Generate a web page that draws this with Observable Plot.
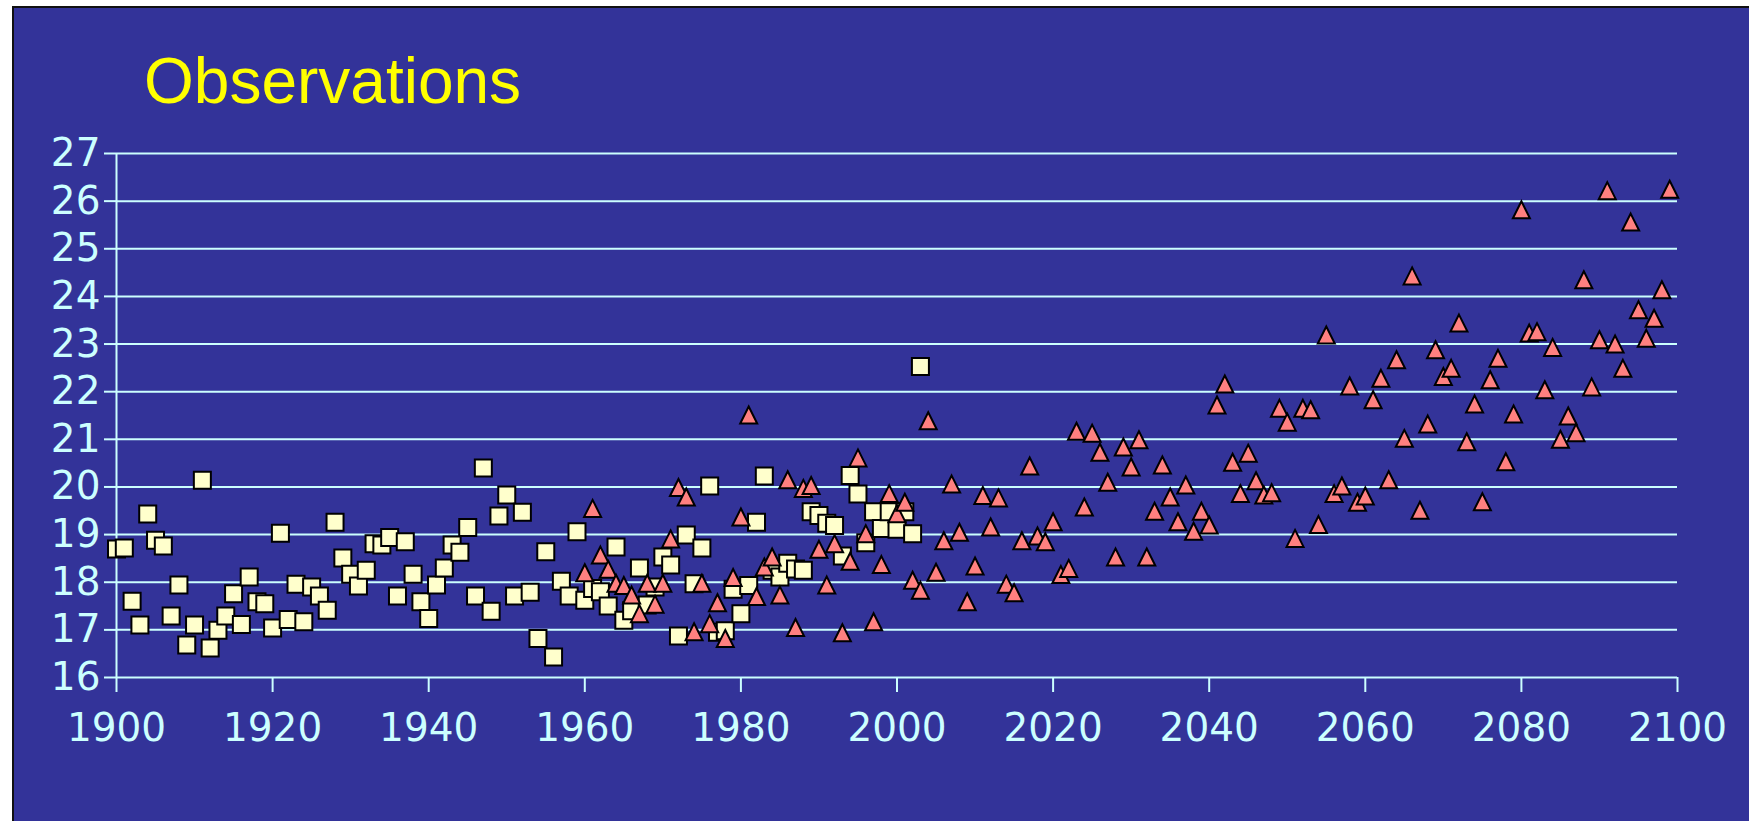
<!DOCTYPE html>
<html>
<head>
<meta charset="utf-8">
<script src="https://cdn.jsdelivr.net/npm/d3@7"></script>
<script src="https://cdn.jsdelivr.net/npm/@observablehq/plot@0.6"></script>
<style>
  html, body { margin: 0; padding: 0; background: #ffffff; overflow: hidden; }
  #page { position: relative; width: 1749px; height: 821px; }
  #panel { position: absolute; left: 12px; top: 6px; right: 0; bottom: 0; background: #333399;
           border-left: 2px solid #111; border-top: 2px solid #111; }
  #chart { position: absolute; left: 0; top: 0; }
  #title { position: absolute; left: 144px; top: 49px; font-family: "Liberation Sans", Arial, sans-serif;
           font-size: 64px; line-height: 64px; color: #ffff00; white-space: nowrap; }
</style>
</head>
<body>
<div id="page">
  <div id="panel"></div>
  <div id="chart"></div>
  <div id="title">Observations</div>
</div>
<script>
// ---- Data ----
const xTicks = [1900, 1920, 1940, 1960, 1980, 2000, 2020, 2040, 2060, 2080, 2100];
const yTicks = [16, 17, 18, 19, 20, 21, 22, 23, 24, 25, 26, 27];

// Observations (squares)
const obsYears = [
  1900,1901,1902,1903,1904,1905,1906,1907,1908,1909,
  1910,1911,1912,1913,1914,1915,1916,1917,1918,1919,
  1920,1921,1922,1923,1924,1925,1926,1927,1928,1929,
  1930,1931,1932,1933,1934,1935,1936,1937,1938,1939,
  1940,1941,1942,1943,1944,1945,1946,1947,1948,1949,
  1950,1951,1952,1953,1954,1955,1956,1957,1958,1959,
  1960,1961,1962,1963,1964,1965,1966,1967,1968,1969,
  1970,1971,1972,1973,1974,1975,1976,1977,1978,1979,
  1980,1981,1982,1983,1984,1985,1986,1987,1988,1989,
  1990,1991,1992,1993,1994,1995,1996,1997,1998,1999,
  2000,2001,2002,2003
];
const obsValues = [
  18.70,18.72,17.60,17.10,19.43,18.88,18.76,17.29,17.94,16.68,
  17.10,20.14,16.62,16.99,17.29,17.76,17.11,18.11,17.59,17.55,
  17.04,19.03,17.22,17.96,17.17,17.90,17.71,17.41,19.26,18.51,
  18.17,17.92,18.25,18.81,18.78,18.94,17.71,18.85,18.17,17.59,
  17.24,17.94,18.30,18.78,18.63,19.15,17.71,20.40,17.39,19.39,
  19.83,17.71,19.47,17.79,16.82,18.64,16.43,18.02,17.71,19.06,
  17.62,17.87,17.80,17.50,18.74,17.20,17.40,18.30,17.52,17.90,
  18.53,18.36,16.87,18.99,17.97,18.72,20.02,16.95,16.98,17.85,
  17.34,17.93,19.26,20.23,18.25,18.11,18.40,18.28,18.25,19.48,
  19.40,19.24,19.19,18.55,20.24,19.85,18.83,19.48,19.13,19.48,
  19.11,19.48,19.02,22.53
];

// Simulation (triangles)
const simYears = [
  1960,1961,1962,1963,1964,1965,1966,1967,1968,1969,
  1970,1971,1972,1973,1974,1975,1976,1977,1978,1979,
  1980,1981,1982,1983,1984,1985,1986,1987,1988,1989,
  1990,1991,1992,1993,1994,1995,1996,1997,1998,1999,
  2000,2001,2002,2003,2004,2005,2006,2007,2008,2009,
  2010,2011,2012,2013,2014,2015,2016,2017,2018,2019,
  2020,2021,2022,2023,2024,2025,2026,2027,2028,2029,
  2030,2031,2032,2033,2034,2035,2036,2037,2038,2039,
  2040,2041,2042,2043,2044,2045,2046,2047,2048,2049,
  2050,2051,2052,2053,2054,2055,2056,2057,2058,2059,
  2060,2061,2062,2063,2064,2065,2066,2067,2068,2069,
  2070,2071,2072,2073,2074,2075,2076,2077,2078,2079,
  2080,2081,2082,2083,2084,2085,2086,2087,2088,2089,
  2090,2091,2092,2093,2094,2095,2096,2097,2098,2099
];
const simValues = [
  18.20,19.55,18.57,18.27,17.98,17.93,17.73,17.34,17.98,17.54,
  17.98,18.91,19.99,19.79,16.96,17.98,17.13,17.57,16.82,18.10,
  19.37,21.51,17.70,18.32,18.53,17.73,20.15,17.05,19.97,20.03,
  18.69,17.94,18.81,16.94,18.44,20.61,19.02,17.17,18.37,19.86,
  19.44,19.68,18.04,17.83,21.39,18.21,18.87,20.06,19.05,17.59,
  18.34,19.82,19.16,19.77,17.96,17.78,18.87,20.44,18.97,18.85,
  19.27,18.16,18.29,21.17,19.58,21.13,20.73,20.10,18.53,20.84,
  20.42,20.99,18.53,19.49,20.46,19.79,19.27,20.04,19.07,19.49,
  19.20,21.72,22.16,20.52,19.86,20.71,20.13,19.83,19.88,21.65,
  21.36,18.92,21.65,21.62,19.21,23.19,19.86,20.02,22.12,19.68,
  19.81,21.83,22.28,20.15,22.67,21.02,24.43,19.51,21.32,22.88,
  22.32,22.49,23.44,20.95,21.74,19.69,22.25,22.70,20.53,21.53,
  25.82,23.23,23.26,22.04,22.93,21.00,21.49,21.14,24.35,22.10,
  23.09,26.22,23.00,22.49,25.56,23.72,23.12,23.54,24.14,26.25
];

// ---- Build tables ----
const obs = obsYears.map((year, i) => ({year, value: obsValues[i]}));
const sim = simYears.map((year, i) => ({year, value: simValues[i]}));

// ---- Marker shapes (bounding-box centred) ----
const squareSym = {
  draw(ctx, size) {
    const r = Math.sqrt(size / Math.PI);
    ctx.moveTo(-r, -r); ctx.lineTo(r, -r); ctx.lineTo(r, r); ctx.lineTo(-r, r); ctx.closePath();
  }
};
const triangleSym = {
  draw(ctx, size) {
    const r = Math.sqrt(size / Math.PI);
    ctx.moveTo(0, -r); ctx.lineTo(r, r); ctx.lineTo(-r, r); ctx.closePath();
  }
};

const axisColor = "#ccffff";

const chart = Plot.plot({
  width: 1749,
  height: 821,
  marginLeft: 116,
  marginRight: 72,
  marginTop: 153,
  marginBottom: 144,
  style: {
    background: "transparent",
    color: axisColor,
    fontFamily: "'DejaVu Sans', Verdana, sans-serif",
    fontSize: "39px",
    overflow: "visible"
  },
  x: {domain: [1900, 2100], label: null},
  y: {domain: [16, 27], label: null},
  marks: [
    Plot.ruleY(yTicks, {stroke: axisColor, strokeWidth: 2}),
    Plot.ruleX([1900], {stroke: axisColor, strokeWidth: 2}),
    Plot.axisY(yTicks, {anchor: "left", tickSize: 12, tickPadding: 4, tickFormat: d => String(d),
                        strokeWidth: 2, label: null, fontSize: 39}),
    Plot.axisX(xTicks, {anchor: "bottom", tickSize: 15, tickPadding: 21, tickFormat: d => String(d),
                        strokeWidth: 2, label: null, fontSize: 39}),
    Plot.dot(obs, {x: "year", y: "value", symbol: squareSym, r: 8.5,
                   fill: "#ffffcc", stroke: "#000000", strokeWidth: 2}),
    Plot.dot(sim, {x: "year", y: "value", symbol: triangleSym, r: 8.5,
                   fill: "#ff8080", stroke: "#000000", strokeWidth: 2})
  ]
});
document.getElementById("chart").appendChild(chart);
</script>
</body>
</html>
